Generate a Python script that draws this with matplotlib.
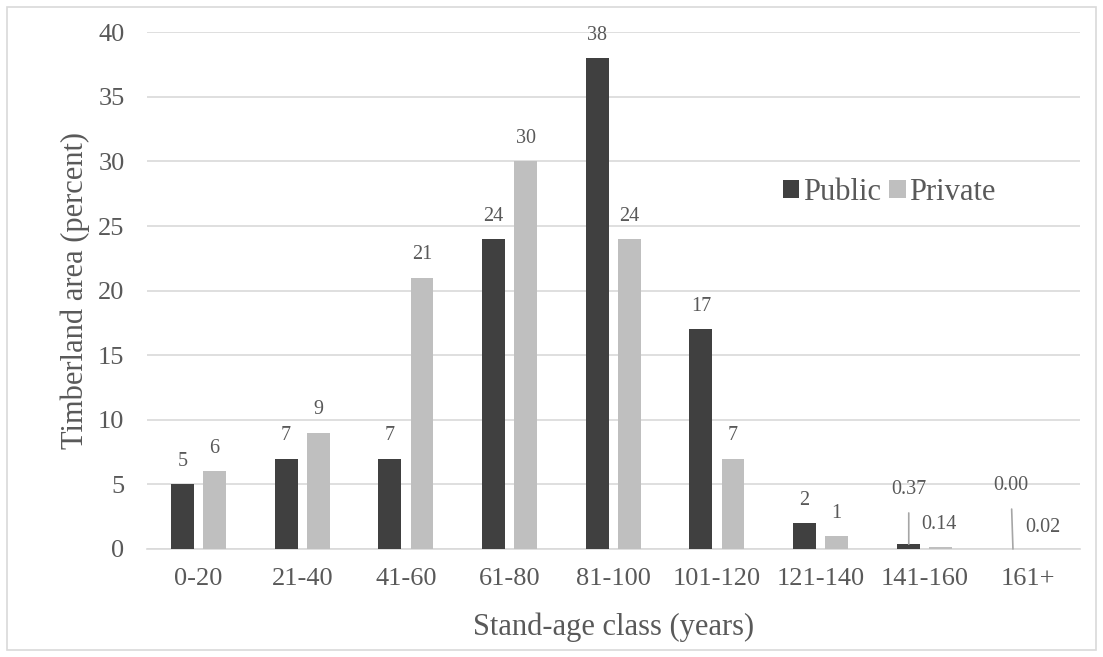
import matplotlib
matplotlib.use("Agg")
import matplotlib.pyplot as plt
import numpy as np
from matplotlib.patches import Rectangle

plt.rcParams['font.family'] = ['Liberation Serif', 'DejaVu Serif']

# data
classes = ["0-20", "21-40", "41-60", "61-80", "81-100", "101-120", "121-140", "141-160", "161+"]
public = [5, 7, 7, 24, 38, 17, 2, 0.37, 0.00]
private = [6, 9, 21, 30, 24, 7, 1, 0.14, 0.02]
public_labels = ["5", "7", "7", "24", "38", "17", "2", "0.37", "0.00"]
private_labels = ["6", "9", "21", "30", "24", "7", "1", "0.14", "0.02"]

dark = "#404040"
light = "#bfbfbf"
txt = "#595959"
grid = "#d9d9d9"

fig = plt.figure(figsize=(11.03, 6.57), dpi=100)
ax = fig.add_axes([0.133, 0.1644, 0.846, 0.7864])

# outer frame like the chart area border
fig.patches.append(Rectangle((0.006, 0.011), 0.988, 0.979, transform=fig.transFigure,
                             fill=False, edgecolor=grid, lw=1.2))

x = np.arange(len(classes))
w = 0.22
off = 0.155
ax.bar(x - off, public, w, color=dark, label="Public", zorder=3)
ax.bar(x + off, private, w, color=light, label="Private", zorder=3)

# value labels (small ones get leader lines)
for i in range(len(classes)):
    if public[i] >= 1:
        ax.annotate(public_labels[i], (x[i] - off, public[i]), xytext=(0, 16.5),
                    textcoords="offset points", ha="center", va="center",
                    fontsize=14.5, color=txt)
    if private[i] >= 1:
        ax.annotate(private_labels[i], (x[i] + off, private[i]), xytext=(0, 16.5),
                    textcoords="offset points", ha="center", va="center",
                    fontsize=14.5, color=txt)

# 141-160
ax.annotate(public_labels[7], xy=(x[7] - 0.15, public[7]), xytext=(x[7] - 0.15, 4.6),
            ha="center", va="center", fontsize=14.5, color=txt,
            arrowprops=dict(arrowstyle="-", color="#a6a6a6", lw=1.2, shrinkA=8, shrinkB=0))
ax.text(x[7] + 0.14, 1.9, private_labels[7], ha="center", va="center", fontsize=14.5, color=txt)
# 161+
ax.annotate(public_labels[8], xy=(x[8] - 0.145, public[8]), xytext=(x[8] - 0.165, 4.9),
            ha="center", va="center", fontsize=14.5, color=txt,
            arrowprops=dict(arrowstyle="-", color="#a6a6a6", lw=1.2, shrinkA=8, shrinkB=0))
ax.text(x[8] + 0.14, 1.7, private_labels[8], ha="center", va="center", fontsize=14.5, color=txt)

ax.set_xlim(-0.5, len(classes) - 0.5)
ax.set_ylim(0, 40)
ax.set_yticks(range(0, 41, 5))
ax.set_xticks(x)
ax.set_xticklabels(classes)
ax.tick_params(axis="both", length=0, labelsize=19, colors=txt)
ax.tick_params(axis="y", pad=16)
ax.tick_params(axis="x", pad=14)
ax.yaxis.grid(True, color=grid, lw=1.2, zorder=0)
ax.set_axisbelow(True)
for s in ["top", "right", "left"]:
    ax.spines[s].set_visible(False)
ax.spines["bottom"].set_color(grid)
ax.spines["bottom"].set_linewidth(1.2)

ax.set_xlabel("Stand-age class (years)", fontsize=22, color=txt)
ax.set_ylabel("Timberland area (percent)", fontsize=22, color=txt)
ax.xaxis.set_label_coords(0.5, -0.122)
ax.yaxis.set_label_coords(-0.061, 0.5)

ax.legend(loc="center left", bbox_to_anchor=(0.652, 0.69), ncol=2, frameon=False,
          fontsize=22, labelcolor=txt, handlelength=0.55, handleheight=0.55,
          handletextpad=0.12, columnspacing=0.25)

fig.savefig("out.png", dpi=100)
